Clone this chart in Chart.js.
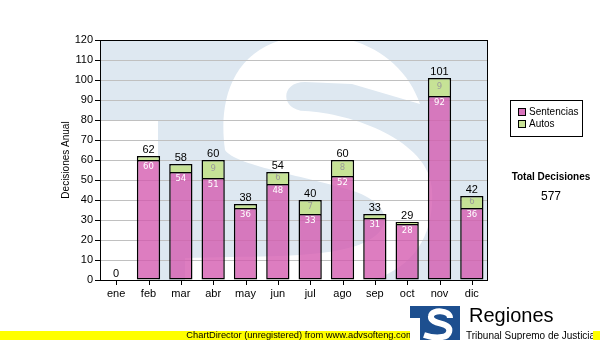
<!DOCTYPE html>
<html lang="es">
<head>
<meta charset="UTF-8">
<title>Decisiones Anual</title>
<style>
  body { margin: 0; background: #fff; }
  #marco {
    position: relative;
    width: 600px;
    height: 340px;
    overflow: hidden;
    font-family: "Liberation Sans", Arial, sans-serif;
    color: #000;
  }
  #grafico { position: absolute; left: 0; top: 0; }
  .leyenda {
    position: absolute;
    left: 510px;
    top: 100px;
    width: 71px;
    height: 35px;
    border: 1px solid #000;
    background: #fff;
    font-size: 10px;
  }
  .item { position: absolute; left: 7px; height: 12px; line-height: 12px; white-space: nowrap; }
  .cuadro {
    display: inline-block;
    width: 6px;
    height: 6px;
    border: 1px solid #000;
    margin-right: 3px;
    vertical-align: -1px;
  }
  .total-titulo {
    position: absolute;
    left: 505px;
    top: 171px;
    width: 92px;
    text-align: center;
    font-size: 10px;
    font-weight: bold;
  }
  .total-valor {
    position: absolute;
    left: 505px;
    top: 189px;
    width: 92px;
    text-align: center;
    font-size: 12px;
  }
  .franja {
    position: absolute;
    left: 0;
    top: 331px;
    width: 600px;
    height: 9px;
    background: #ffff00;
  }
  .franja span {
    position: absolute;
    left: 0;
    width: 600px;
    top: -2px;
    text-align: center;
    font-size: 9.3px;
    line-height: 12px;
  }
  .logo {
    position: absolute;
    left: 410px;
    top: 301px;
    width: 183px;
    height: 39px;
    background: #fff;
    overflow: hidden;
  }
  .logo svg { position: absolute; left: 0; top: 5px; }
  .logo .nombre { position: absolute; left: 59px; top: 2px; font-size: 20px; line-height: 24px; }
  .logo .sub { position: absolute; left: 56px; top: 29px; font-size: 10px; line-height: 12px; white-space: nowrap; }
</style>
<script src="https://cdn.jsdelivr.net/npm/chart.js"></script>
</head>
<body>
<div id="marco">
  <canvas id="grafico" width="600" height="340"></canvas>

  <div class="leyenda">
    <div class="item" style="top:5px"><span class="cuadro" style="background:#d873bc"></span>Sentencias</div>
    <div class="item" style="top:17px"><span class="cuadro" style="background:#c8e396"></span>Autos</div>
  </div>
  <div class="total-titulo">Total Decisiones</div>
  <div class="total-valor" id="total"></div>

  <div class="franja"><span>ChartDirector (unregistered) from www.advsofteng.com</span></div>
  <div class="logo">
    <svg width="50" height="34" viewBox="0 0 50 34">
      <rect x="0" y="0" width="50" height="34" fill="#1d4f8f"/>
      <rect x="0" y="12" width="10" height="22" fill="#fff"/>
      <path d="M40 12 C40 4, 22 3, 21 10 C20 16, 30 17, 35 19 C42 22, 40 30, 32 31 C26 32, 20 31, 14 29"
            fill="none" stroke="#fff" stroke-width="6"/>
    </svg>
    <div class="nombre">Regiones</div>
    <div class="sub">Tribunal Supremo de Justicia</div>
  </div>
</div>

<script>
  // datos por mes
  const meses = ['ene', 'feb', 'mar', 'abr', 'may', 'jun', 'jul', 'ago', 'sep', 'oct', 'nov', 'dic'];
  const sentencias = [0, 60, 54, 51, 36, 48, 33, 52, 31, 28, 92, 36];
  const autos = [0, 2, 4, 9, 2, 6, 7, 8, 2, 1, 9, 6];
  const ticksY = [0, 10, 20, 30, 40, 50, 60, 70, 80, 90, 100, 110, 120];

  const totalGeneral = sentencias.reduce((s, v) => s + v, 0) + autos.reduce((s, v) => s + v, 0);
  document.getElementById('total').innerText = totalGeneral;

  const fuente = '"Liberation Sans", Arial, sans-serif';

  // marca de agua: "S" blanca sobre el bloque azul, en una caja de 388 x 240
  const formaS = [
    ['M', 125, 110],
    ['C', 118, 60, 132, 5, 200, -4],
    ['C', 260, -10, 305, 20, 320, 64],
    ['L', 252, 44],
    ['L', 205, 42],
    ['C', 180, 42, 180, 70, 205, 71],
    ['C', 250, 73, 330, 100, 332, 150],
    ['C', 335, 210, 300, 245, 220, 250],
    ['L', 85, 250],
    ['L', 85, 218],
    ['C', 150, 216, 200, 218, 240, 210],
    ['C', 295, 200, 300, 165, 250, 150],
    ['C', 200, 135, 135, 125, 125, 110]
  ];

  const fondo = {
    id: 'fondo',
    beforeDraw(chart) {
      const { ctx, chartArea: a, scales } = chart;
      const sx = a.width / 388, sy = a.height / 240;
      const X = v => a.left + v * sx;
      const Y = v => a.top + v * sy;
      ctx.save();
      ctx.beginPath();
      ctx.rect(a.left, a.top, a.width, a.height);
      ctx.clip();
      ctx.fillStyle = '#dee8f1';
      ctx.fillRect(a.left, a.top, a.width, a.height);
      ctx.fillStyle = '#fff';
      ctx.fillRect(a.left, Y(81), 58 * sx, a.height);
      ctx.beginPath();
      formaS.forEach(p => {
        if (p[0] === 'M') ctx.moveTo(X(p[1]), Y(p[2]));
        else if (p[0] === 'L') ctx.lineTo(X(p[1]), Y(p[2]));
        else ctx.bezierCurveTo(X(p[1]), Y(p[2]), X(p[3]), Y(p[4]), X(p[5]), Y(p[6]));
      });
      ctx.closePath();
      ctx.fill();
      ctx.restore();

      // lineas horizontales y marcas de los ejes
      ctx.save();
      ctx.lineWidth = 1;
      ticksY.forEach(v => {
        const y = Math.round(scales.y.getPixelForValue(v)) + 0.5;
        ctx.strokeStyle = '#c0c0c0';
        ctx.beginPath();
        ctx.moveTo(a.left, y);
        ctx.lineTo(a.right, y);
        ctx.stroke();
        ctx.strokeStyle = '#000';
        ctx.beginPath();
        ctx.moveTo(a.left - 5, y);
        ctx.lineTo(a.left, y);
        ctx.stroke();
      });
      meses.forEach((m, i) => {
        const x = Math.round(scales.x.getPixelForValue(i)) + 0.5;
        ctx.strokeStyle = '#000';
        ctx.beginPath();
        ctx.moveTo(x, a.bottom);
        ctx.lineTo(x, a.bottom + 5);
        ctx.stroke();
      });
      ctx.restore();
    },
    afterDraw(chart) {
      const { ctx, chartArea: a } = chart;
      ctx.save();
      ctx.strokeStyle = '#000';
      ctx.lineWidth = 1;
      ctx.strokeRect(Math.round(a.left) + 0.5, Math.round(a.top) + 0.5,
        Math.round(a.width) - 1, Math.round(a.height));
      ctx.restore();
    }
  };

  // valores dentro y encima de cada barra
  const etiquetas = {
    id: 'etiquetas',
    afterDatasetsDraw(chart) {
      const ctx = chart.ctx;
      const mS = chart.getDatasetMeta(0);
      const mA = chart.getDatasetMeta(1);
      ctx.save();
      ctx.textAlign = 'center';
      meses.forEach((m, i) => {
        const bS = mS.data[i];
        const bA = mA.data[i];
        if (sentencias[i] > 0) {
          ctx.font = '8.5px "DejaVu Sans", Verdana, sans-serif';
          ctx.fillStyle = '#ffffff';
          ctx.textBaseline = 'top';
          ctx.fillText(sentencias[i], bS.x, bS.y + 3);
        }
        if (autos[i] >= 5) {
          ctx.font = '8.5px "DejaVu Sans", Verdana, sans-serif';
          ctx.fillStyle = '#9c9c9c';
          ctx.textBaseline = 'middle';
          ctx.fillText(autos[i], bA.x, (bA.y + bA.base) / 2);
        }
        ctx.font = '11px ' + fuente;
        ctx.fillStyle = '#000';
        ctx.textBaseline = 'alphabetic';
        ctx.fillText(sentencias[i] + autos[i], bA.x, bA.y - 3);
      });
      ctx.restore();
    }
  };

  new Chart(document.getElementById('grafico'), {
    type: 'bar',
    data: {
      labels: meses,
      datasets: [{
        label: 'Sentencias',
        data: sentencias,
        backgroundColor: 'rgba(212, 88, 174, 0.78)',
        borderColor: '#000',
        borderWidth: 1.5,
        borderSkipped: false,
        barPercentage: 0.72,
        categoryPercentage: 1
      }, {
        label: 'Autos',
        data: autos,
        backgroundColor: 'rgba(196, 226, 144, 0.95)',
        borderColor: '#000',
        borderWidth: { top: 1.5, left: 1.5, right: 1.5, bottom: 0 },
        borderSkipped: false,
        barPercentage: 0.72,
        categoryPercentage: 1
      }]
    },
    options: {
      responsive: false,
      animation: false,
      layout: { padding: { left: 56, top: 40, right: 112, bottom: 40 } },
      plugins: {
        legend: { display: false },
        tooltip: { enabled: false }
      },
      scales: {
        x: {
          stacked: true,
          offset: true,
          grid: { offset: false, drawOnChartArea: false, tickLength: 5, tickColor: 'rgba(0,0,0,0)' },
          border: { display: false },
          ticks: { color: '#000', font: { size: 11, family: fuente }, padding: 2 },
          afterFit(s) { s.height = 20; }
        },
        y: {
          stacked: true,
          min: 0,
          max: 120,
          afterBuildTicks(s) { s.ticks = ticksY.map(v => ({ value: v })); },
          grid: { drawOnChartArea: false, tickLength: 5, tickColor: 'rgba(0,0,0,0)' },
          border: { display: false },
          ticks: { color: '#000', font: { size: 11, family: fuente }, padding: 2 },
          title: {
            display: true,
            text: 'Decisiones Anual',
            color: '#000',
            font: { size: 10, family: fuente },
            padding: { top: 4, bottom: 4 }
          },
          afterFit(s) { s.width = 44; }
        }
      }
    },
    plugins: [fondo, etiquetas]
  });
</script>
</body>
</html>
